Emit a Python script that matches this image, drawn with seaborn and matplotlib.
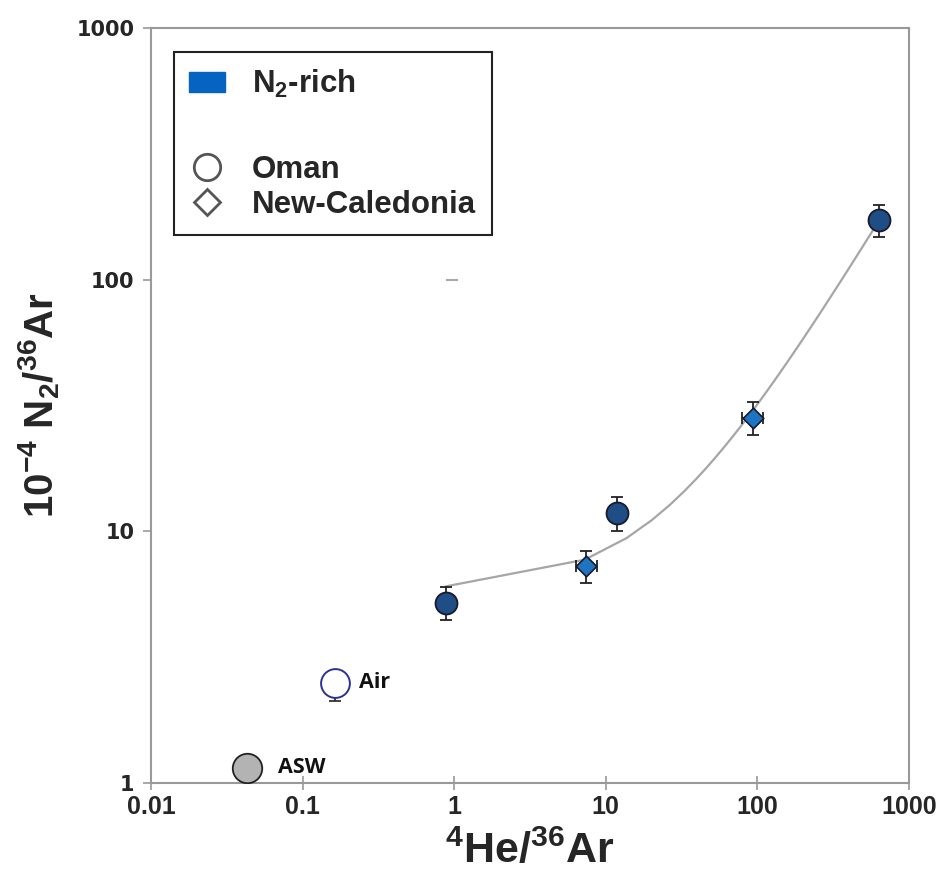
import numpy as np
import pandas as pd
import matplotlib
matplotlib.use("Agg")
import matplotlib.pyplot as plt
import seaborn as sns
from matplotlib.lines import Line2D
from matplotlib.patches import Patch
from matplotlib import font_manager as fm
from matplotlib.ticker import FixedLocator, FixedFormatter, NullLocator

# ---------------- data ----------------
oman_x = [0.88, 11.8, 634]
oman_y = [5.20, 11.85, 172]
oman_ylo = [4.44, 10.0, 148]
oman_yhi = [6.01, 13.7, 198]

nc_x = [7.40, 93]
nc_y = [7.28, 28.3]
nc_xlo = [6.4, 79]
nc_xhi = [8.7, 109]
nc_ylo = [6.23, 24.1]
nc_yhi = [8.35, 32.6]

air_x = [0.164]
air_y = [2.50]
air_ylo = [2.12]

asw_x = [0.043]
asw_y = [1.15]

x_ticks = [0.01, 0.1, 1, 10, 100, 1000]
x_ticklabels = ["0.01", "0.1", "1", "10", "100", "1000"]
y_ticks = [1, 10, 100, 1000]
y_ticklabels = ["1", "10", "100", "1000"]

# ---------------- style ----------------
sns.set_theme(style="white")
names = {f.name for f in fm.fontManager.ttflist}
narrow = "Liberation Sans Narrow" if "Liberation Sans Narrow" in names else "Liberation Sans"
plt.rcParams['font.family'] = ['Liberation Sans', 'DejaVu Sans']
plt.rcParams['mathtext.fontset'] = 'custom'
plt.rcParams['mathtext.rm'] = 'Liberation Sans:bold'
plt.rcParams['mathtext.it'] = 'Liberation Sans:bold'
plt.rcParams['mathtext.bf'] = 'Liberation Sans:bold'
plt.rcParams['mathtext.default'] = 'rm'

fig = plt.figure(figsize=(9.46, 8.75), dpi=100)
ax = fig.add_axes([151/946, 1-783/875, 758/946, 755/875])
ax.set_xscale("log")
ax.set_yscale("log")
ax.set_xlim(0.01, 1000)
ax.set_ylim(1, 1000)

# fitted trend through N2-rich samples
df_all = pd.DataFrame({"x": oman_x + nc_x, "y": oman_y + nc_y})
sns.regplot(data=df_all, x="x", y="y", ax=ax, scatter=False, ci=None,
            truncate=True, line_kws=dict(color="#a6a6a6", lw=1.6, zorder=2))

# error bars
ecol = "#222222"
ax.errorbar(oman_x, oman_y,
            yerr=[np.array(oman_y) - np.array(oman_ylo), np.array(oman_yhi) - np.array(oman_y)],
            fmt="none", ecolor=ecol, elinewidth=1.3, capsize=4, capthick=1.3, zorder=3)
ax.errorbar(nc_x, nc_y,
            xerr=[np.array(nc_x) - np.array(nc_xlo), np.array(nc_xhi) - np.array(nc_x)],
            yerr=[np.array(nc_y) - np.array(nc_ylo), np.array(nc_yhi) - np.array(nc_y)],
            fmt="none", ecolor=ecol, elinewidth=1.3, capsize=4, capthick=1.3, zorder=3)
ax.errorbar(air_x, air_y, yerr=[np.array(air_y) - np.array(air_ylo), [0]],
            fmt="none", ecolor=ecol, elinewidth=1.2, capsize=4, capthick=1.2, zorder=3)

# markers
sns.scatterplot(x=oman_x, y=oman_y, ax=ax, marker="o", s=250, color="#1f4d85",
                edgecolor="#1a1a2a", linewidth=1.3, zorder=4)
sns.scatterplot(x=nc_x, y=nc_y, ax=ax, marker="D", s=110, color="#1c74c2",
                edgecolor="#1a1a2a", linewidth=1.2, zorder=4)
sns.scatterplot(x=air_x, y=air_y, ax=ax, marker="o", s=430, facecolor="white",
                edgecolor="#2e3192", linewidth=1.4, zorder=4)
sns.scatterplot(x=asw_x, y=asw_y, ax=ax, marker="o", s=450, color="#b3b3b3",
                edgecolor="#222222", linewidth=1.3, zorder=4)
ax.plot([0.96], [100], marker="_", markersize=8, color="#aaaaaa", mew=1.5, linestyle="none")

ax.text(0.235, air_y[0], "Air", fontsize=15.5, fontweight="bold", family=["Open Sans", "DejaVu Sans"],
        va="center", ha="left", color="#111111")
ax.text(0.069, asw_y[0], "ASW", fontsize=15.5, fontweight="bold", family=["Open Sans", "DejaVu Sans"],
        va="center", ha="left", color="#111111")

# axes / ticks
for s in ax.spines.values():
    s.set_color("#999999")
    s.set_linewidth(1.5)
ax.xaxis.set_major_locator(FixedLocator(x_ticks))
ax.xaxis.set_major_formatter(FixedFormatter(x_ticklabels))
ax.yaxis.set_major_locator(FixedLocator(y_ticks))
ax.yaxis.set_major_formatter(FixedFormatter(y_ticklabels))
ax.xaxis.set_minor_locator(NullLocator())
ax.yaxis.set_minor_locator(NullLocator())
ax.tick_params(axis="x", which="major", direction="inout", length=10, width=1.2, color="#999999",
               pad=4, labelsize=18)
ax.tick_params(axis="y", which="major", direction="out", length=6, width=1.2, color="#999999",
               pad=6, labelsize=15)
ax.tick_params(bottom=True, left=True)
for lab in ax.get_xticklabels():
    lab.set_fontweight("bold")
    lab.set_family([narrow, "DejaVu Sans"])
for lab in ax.get_yticklabels():
    lab.set_fontweight("bold")
    lab.set_family(["DejaVu Sans"])

ax.set_xlabel("$^{4}$He/$^{36}$Ar", fontsize=31, fontweight="bold", family=[narrow, "DejaVu Sans"],
              labelpad=8)
ax.set_ylabel("10$^{-4}$ N$_{2}$/$^{36}$Ar", fontsize=29, fontweight="bold",
              family=[narrow, "DejaVu Sans"], labelpad=10)

# legend
handles = [
    Patch(facecolor="#0563c1", edgecolor="#0563c1"),
    Line2D([], [], linestyle="none"),
    Line2D([], [], marker="o", linestyle="none", markersize=19, markerfacecolor="white",
           markeredgecolor="#555555", markeredgewidth=2),
    Line2D([], [], marker="D", linestyle="none", markersize=13.5, markerfacecolor="white",
           markeredgecolor="#555555", markeredgewidth=2),
]
labels = ["N$_{2}$-rich", " ", "Oman", "New-Caledonia"]
leg = ax.legend(handles, labels, loc="upper left", bbox_to_anchor=(0.030, 0.968),
                frameon=True, fancybox=False, edgecolor="#222222", framealpha=1,
                prop=dict(family="Liberation Sans", weight="bold", size=22.5),
                labelspacing=0.17, handlelength=1.15, handleheight=0.6, handletextpad=0.85,
                borderpad=0.5, borderaxespad=0)
leg.get_texts()[1].set_fontsize(33)
leg.get_frame().set_linewidth(1.5)

fig.savefig("out.png", dpi=100)
